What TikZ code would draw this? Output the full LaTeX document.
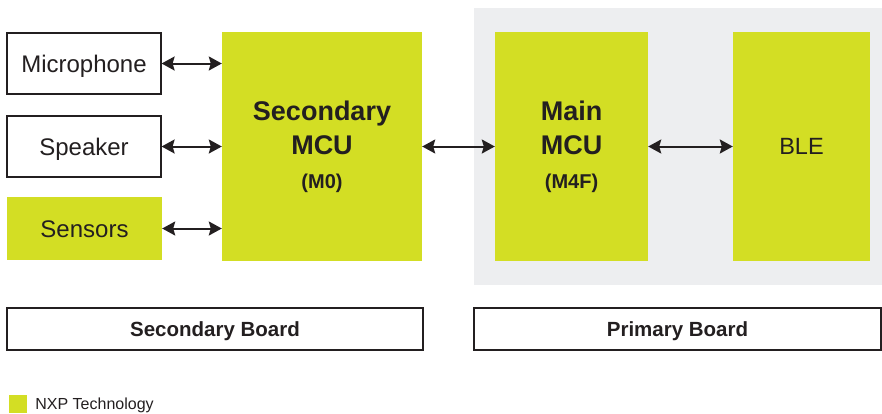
\documentclass[tikz,border=0pt]{standalone}
\usepackage{fontspec}
\setmainfont{Liberation Sans}
\usetikzlibrary{arrows.meta,positioning}
\definecolor{nxpgreen}{RGB}{211,222,36}
\definecolor{panelgray}{RGB}{237,238,240}
\definecolor{inkdark}{RGB}{35,31,32}

\begin{document}
\begin{tikzpicture}[x=1pt,y=-1pt]
\tikzset{
  blockbox/.style={rectangle,inner sep=0pt,text=inkdark,font=\fontsize{24}{28}\selectfont},
  captext/.style={text height=#1,text depth=0pt},
  whitebox/.style={blockbox,captext=17.2pt,draw=inkdark,line width=1.2pt,fill=white},
  greenbox/.style={blockbox,fill=nxpgreen},
  mcubox/.style={greenbox,align=center,font=\bfseries\fontsize{27}{34}\selectfont},
  boardbox/.style={whitebox,captext=14.7pt,minimum height=42,font=\bfseries\fontsize{20.5}{24}\selectfont},
  link/.style={draw=inkdark,line width=2pt,{Stealth[length=13pt,width=14pt,inset=2pt]}-{Stealth[length=13pt,width=14pt,inset=2pt]}}
}
\useasboundingbox (0,0) rectangle (882,413);
% primary board panel
\fill[panelgray] (474,8) rectangle (882,285);
% peripherals
\node[whitebox,minimum width=154,minimum height=61] (n_mic) at (84,63.5) {Microphone};
\node[whitebox,minimum width=154,minimum height=61] (n_spk) at (84,146.5) {Speaker};
\node[greenbox,captext=17.2pt,minimum width=155,minimum height=63] (n_sens) at (84.5,228.5) {Sensors};
% processors
\node[mcubox,minimum width=200,minimum height=229] (n_smcu) at (322,146.5)
  {Secondary\\MCU\\{\fontsize{20}{34}\selectfont (M0)}};
\node[mcubox,minimum width=153,minimum height=229] (n_mmcu) at (571.5,146.5)
  {Main\\MCU\\{\fontsize{20}{34}\selectfont (M4F)}};
\node[greenbox,captext=16.8pt,minimum width=137,minimum height=229,font=\fontsize{23.5}{28}\selectfont] (n_ble) at (801.5,146.5) {BLE};
% links
\draw[link] (n_mic.east) -- (n_mic.east -| n_smcu.west);
\draw[link] (n_spk.east) -- (n_spk.east -| n_smcu.west);
\draw[link] (n_sens.east) -- (n_sens.east -| n_smcu.west);
\draw[link] (n_smcu.east) -- (n_mmcu.west);
\draw[link] (n_mmcu.east) -- (n_ble.west);
% boards
\node[boardbox,minimum width=416] (n_secboard) at (215,329) {Secondary Board};
\node[boardbox,minimum width=407] (n_priboard) at (677.5,329) {Primary Board};
% legend
\node[rectangle,fill=nxpgreen,minimum size=18,inner sep=0pt] (n_legkey) at (18,404) {};
\node[right=8pt of n_legkey,inner sep=0pt,captext=11.5pt,text=inkdark,font=\fontsize{16}{19}\selectfont] (n_legtext) {NXP Technology};
\end{tikzpicture}
\end{document}
